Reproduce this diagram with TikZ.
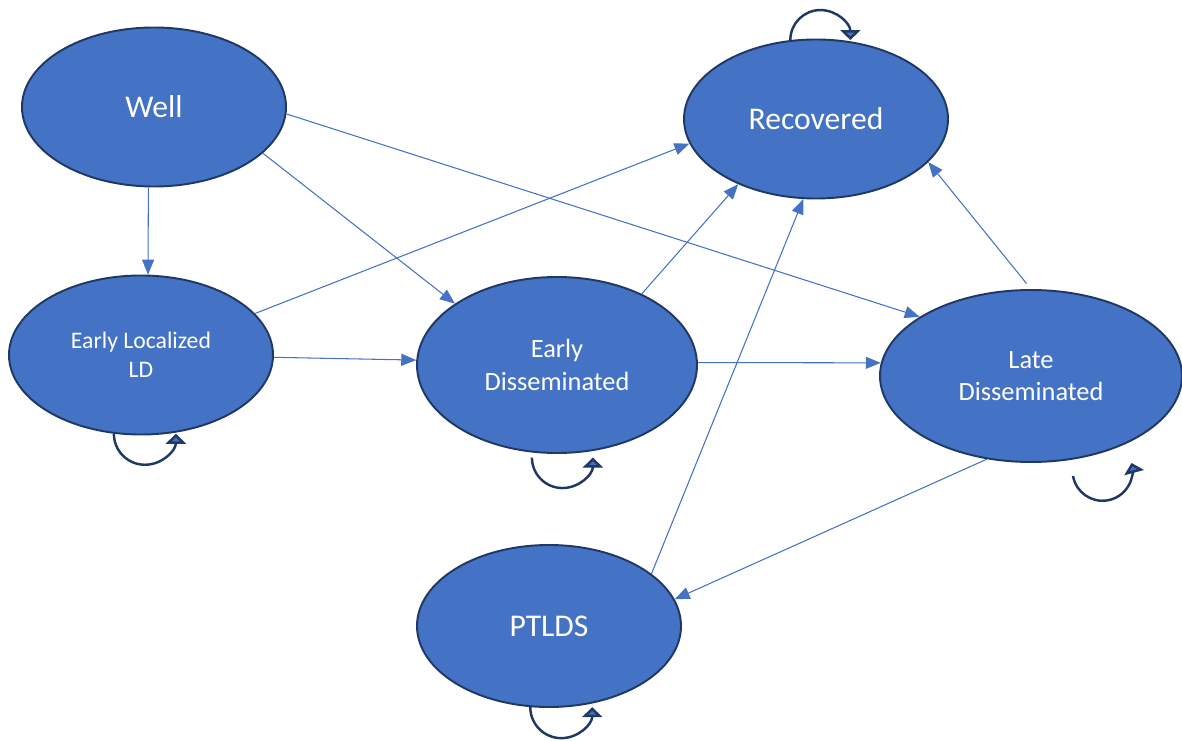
\documentclass[tikz,border=0pt]{standalone}
\usepackage{fontspec}
\setmainfont{Carlito}
\usetikzlibrary{arrows.meta, shapes.geometric}

\definecolor{stfill}{HTML}{4472C4}
\definecolor{stline}{HTML}{1F3864}

\begin{document}
\begin{tikzpicture}[
        s/.style={ellipse, draw=stline, line width=1.1pt, fill=stfill, text=white,
                  inner sep=0pt, align=center, minimum width=5.28cm, minimum height=3.18cm},
        big/.style={font=\fontsize{18}{21.6}\selectfont},
        small/.style={font=\fontsize{13.5}{16.5}\selectfont},
        mid/.style={font=\fontsize{15}{18.5}\selectfont},
        arr/.style={-{Triangle[length=3mm,width=2.4mm]}, line width=0.6pt, stfill},
        lp/.style={-{Triangle[length=2mm,width=4mm,fill=stfill]}, line width=1.4pt, stline}]
      \useasboundingbox (0,0) rectangle (23.64,14.8);
      \node[s, big] (well) at (3.08,12.66) {Well};
      \node[s, big] (rec) at (16.32,12.42) {Recovered};
      \node[s, small] (eloc) at (2.82,7.70) {Early Localized\\LD};
      \node[s, mid, minimum width=5.6cm, minimum height=3.52cm] (ediss) at (11.14,7.50) {Early\\Disseminated};
      \node[s, mid, minimum width=6.04cm, minimum height=3.44cm] (late) at (20.62,7.28) {Late\\Disseminated};
      \node[s, big, minimum height=3.24cm] (ptlds) at (10.98,2.28) {PTLDS};
      % transitions
      \draw[arr] (well.266) -- (eloc.85);
      \draw[arr] (well.-23) -- (ediss.149);
      \draw[arr] (well.-3) -- (late.152);
      \draw[arr] (eloc.20) -- (rec.191);
      \draw[arr] (eloc.-1) -- (ediss.178);
      \draw[arr] (ediss.40) -- (rec.220);
      \draw[arr] (ediss.1) -- (late.175);
      \draw[arr, shorten <=0.14cm] (late.north) -- (rec.-21);
      \draw[arr] (late.242) -- (ptlds.12);
      \draw[arr] (ptlds.27) -- (rec.261);
      % self loops
      \draw[lp] (rec.108) arc[start angle=180, end angle=0, radius=0.6cm];
      \draw[lp] (eloc.251) arc[start angle=180, end angle=360, radius=0.62cm];
      \draw[lp] ([yshift=-0.1cm]ediss.254) arc[start angle=180, end angle=360, radius=0.61cm];
      \draw[lp] (ptlds.257) arc[start angle=180, end angle=360, radius=0.62cm];
      \draw[lp] ([shift={(0.84,-0.26)}]late.south) arc[start angle=190, end angle=375, radius=0.6cm];
    \end{tikzpicture}
\end{document}
